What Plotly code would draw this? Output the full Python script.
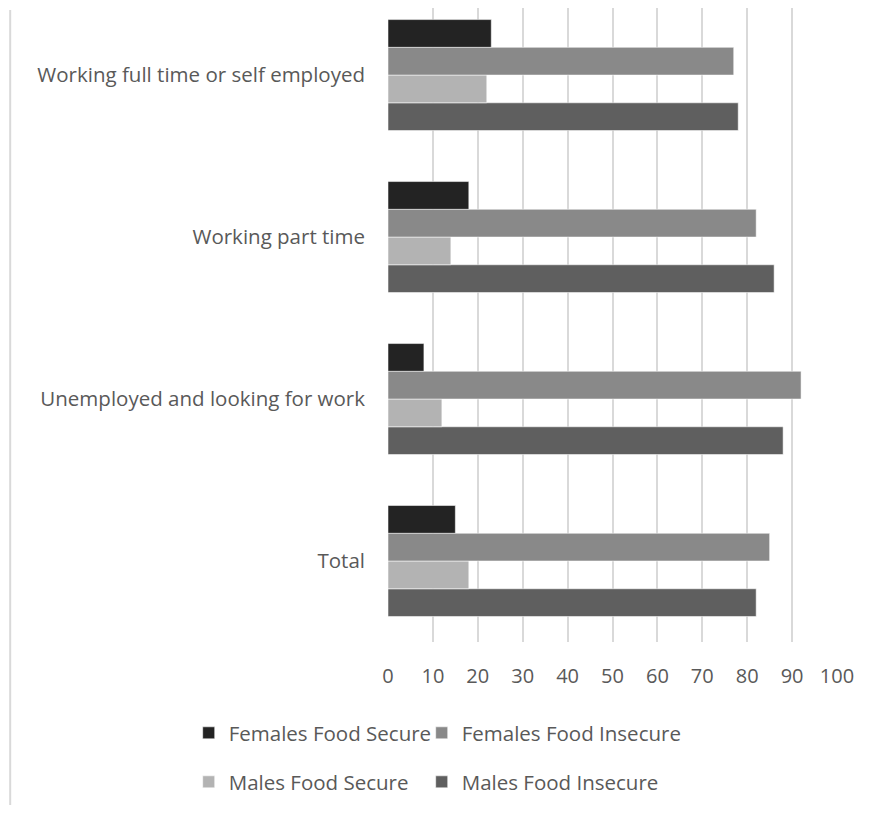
import plotly.graph_objects as go

categories = ["Total", "Unemployed and looking for work", "Working part time",
              "Working full time or self employed"]
females_secure = [15, 8, 18, 23]
females_insecure = [85, 92, 82, 77]
males_secure = [18, 12, 14, 22]
males_insecure = [82, 88, 86, 78]
x_ticks = [0, 10, 20, 30, 40, 50, 60, 70, 80, 90, 100]

# page has an 8px body margin; work in figure pixels (page px - 8)
OFF = 8
W, H = 877 - 2 * OFF, 813 - 2 * OFF
L, R, T, B = 388.3 - OFF, 837.3 - OFF, 8 - OFF, 642 - OFF
FONT = "Open Sans"
TXT = "#595959"

def py(p):
    return (B - (p - OFF)) / (B - T)

def px(p):
    return ((p - OFF) - L) / (R - L)

# name, values, colour, legend id, legend page position (left x, centre y)
series = [
    ("Males Food Insecure", males_insecure, "#5f5f5f", "legend4", (422, 782)),
    ("Males Food Secure", males_secure, "#b3b3b3", "legend3", (189, 782)),
    ("Females Food Insecure", females_insecure, "#898989", "legend2", (422, 733)),
    ("Females Food Secure", females_secure, "#232323", "legend", (189, 733)),
]

fig = go.Figure()
legends = {}
for name, vals, col, lg, (lx, ly) in series:
    fig.add_trace(go.Bar(
        y=categories, x=vals, name=name, orientation="h",
        marker=dict(color=col, line=dict(color="rgba(255,255,255,0.7)", width=0.75)),
        legend=lg, hoverinfo="skip",
    ))
    legends[lg] = dict(
        orientation="h", font=dict(family=FONT, size=20.5, color=TXT),
        bgcolor="rgba(0,0,0,0)", xanchor="left", yanchor="middle",
        itemwidth=30, x=px(lx), y=py(ly),
    )

fig.update_layout(
    width=W, height=H,
    margin=dict(l=L, r=W - R, t=T, b=H - B, pad=0),
    paper_bgcolor="white", plot_bgcolor="white",
    barmode="group", bargap=0.315, bargroupgap=0,
    showlegend=True,
    xaxis=dict(
        range=[0, 100], tickvals=x_ticks, ticktext=[str(v) for v in x_ticks],
        showgrid=True, gridcolor="#d9d9d9", gridwidth=2,
        zeroline=False, showline=False, ticks="",
        tickfont=dict(family=FONT, size=20, color=TXT),
        ticklabelstandoff=20, fixedrange=True,
    ),
    yaxis=dict(
        type="category", categoryorder="array", categoryarray=categories,
        range=[-0.5, 3.414], showgrid=False, zeroline=False, showline=False,
        ticks="", tickfont=dict(family=FONT, size=20.5, color=TXT),
        ticklabelstandoff=22, automargin=False, fixedrange=True,
    ),
    shapes=[dict(type="line", xref="paper", yref="paper",
                 x0=px(10.5), x1=px(10.5), y0=py(10), y1=py(813),
                 line=dict(color="#d9d9d9", width=2))],
    **legends,
)

fig.write_html("out.html")
